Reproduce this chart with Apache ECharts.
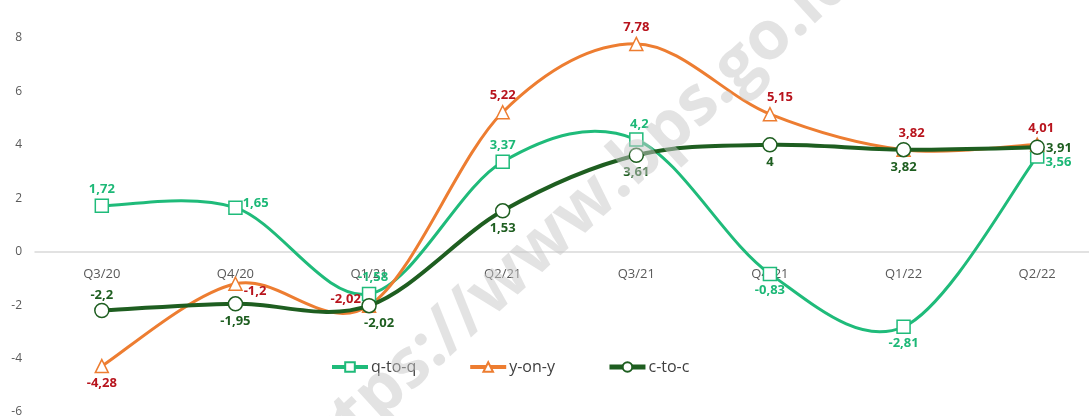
<!DOCTYPE html>
<html>
<head>
<meta charset="utf-8">
<script src="https://cdn.jsdelivr.net/npm/echarts@6/dist/echarts.min.js"></script>
<style>html,body{margin:0;padding:0;background:#fff}#c{width:1089px;height:416px}</style>
</head>
<body>
<div id="c"></div>
<script>
var categories = ['Q3/20','Q4/20','Q1/21','Q2/21','Q3/21','Q4/21','Q1/22','Q2/22'];
var qtoq = [1.72, 1.65, -1.58, 3.37, 4.2, -0.83, -2.81, 3.56];
var yony = [-4.28, -1.2, -2.02, 5.22, 7.78, 5.15, 3.82, 4.01];
var ctoc = [-2.2, -1.95, -2.02, 1.53, 3.61, 4, 3.82, 3.91];
var qPos = ['top','right','top','top','top','bottom','bottom','right'];
var yPos = ['bottom','right','left','top','top','top','top','top'];
var cPos = ['top','bottom','bottom','bottom','bottom','bottom','bottom','right'];
var qOff = [[0,0],[-3,-4],[4,0],[0,0],[3,2],[0,0],[0,0],[-2,6]];
var yOff = [[0,0],[-2,8],[2,-6],[0,0],[0,0],[10,0],[8,0],[4,0]];
var cOff = [[0,2],[0,0],[10,0],[0,0],[0,0],[0,0],[0,0],[-2,1]];

var FONT = '"Open Sans", "Noto Sans", sans-serif';
var Y_MIN = -6, Y_MAX = 8, GRID_TOP = 38, GRID_BOTTOM = 4, H = 416;
var zeroY = GRID_TOP + (H - GRID_TOP - GRID_BOTTOM) * (Y_MAX / (Y_MAX - Y_MIN));
var axisOffset = -((H - GRID_BOTTOM) - zeroY);

var C_Q = '#1fbb7a', C_Y = '#ed7d31', C_C = '#1e5e20';

function fmt(p){ return String(p.value).replace('.', ','); }
function mk(vals, pos, off, labelColor){
  return vals.map(function(v,i){
    return {value: v, label: {position: pos[i], color: labelColor, offset: off[i]}};
  });
}
// Excel-like (Catmull-Rom) smoothed curve drawn through the chart's coordinate system
function curve(vals, color, width, z){
  var n = vals.length;
  return {
    type: 'custom', z: z, silent: true, clip: false,
    data: vals.map(function(v,i){ return [i, v]; }),
    encode: {x: 0, y: 1},
    renderItem: function(params, api){
      var i = params.dataIndex;
      if (i >= n - 1) return null;
      function P(k){ k = Math.max(0, Math.min(n-1, k)); return api.coord([k, vals[k]]); }
      var p0 = P(i-1), p1 = P(i), p2 = P(i+1), p3 = P(i+2);
      return {
        type: 'bezierCurve',
        shape: {
          x1: p1[0], y1: p1[1], x2: p2[0], y2: p2[1],
          cpx1: p1[0] + (p2[0]-p0[0])/6, cpy1: p1[1] + (p2[1]-p0[1])/6,
          cpx2: p2[0] - (p3[0]-p1[0])/6, cpy2: p2[1] - (p3[1]-p1[1])/6
        },
        style: {stroke: color, lineWidth: width, fill: null, lineCap: 'round'}
      };
    }
  };
}
function points(name, vals, pos, off, labelColor, color, symbol, size, width, z){
  return {
    name: name, type: 'line', data: mk(vals, pos, off, labelColor),
    symbol: symbol, symbolSize: size, z: z,
    lineStyle: {color: color, width: width, opacity: 0},
    itemStyle: {color: '#ffffff', borderColor: color, borderWidth: 1.5},
    label: {show: true, formatter: fmt, fontSize: 13, fontWeight: 'bold', distance: 3, fontFamily: FONT}
  };
}
var chart = echarts.init(document.getElementById('c'));
chart.setOption({
  animation: false,
  textStyle: {fontFamily: FONT},
  graphic: [{
    type: 'text', z: 100, x: 266, y: 452, rotation: 0.74, silent: true,
    style: {text: 'https://www.bps.go.id', font: 'bold 68px ' + FONT, fill: 'rgba(200,200,200,0.5)', textBaseline: 'middle'}
  }],
  grid: {left: 35, right: -15, top: GRID_TOP, bottom: GRID_BOTTOM, containLabel: false, outerBoundsMode: 'none'},
  legend: {
    top: 354, left: 325, itemGap: 52, itemWidth: 36, itemHeight: 12,
    textStyle: {color: '#404040', fontSize: 16, fontFamily: FONT, padding: [0,0,0,-2]},
    data: [
      {name: 'q-to-q', lineStyle: {opacity: 1, width: 4, color: C_Q}},
      {name: 'y-on-y', lineStyle: {opacity: 1, width: 4, color: C_Y}},
      {name: 'c-to-c', lineStyle: {opacity: 1, width: 5, color: C_C}}
    ]
  },
  xAxis: {
    type: 'category', data: categories, boundaryGap: true, offset: axisOffset,
    axisLine: {onZero: false, lineStyle: {color: '#d9d9d9', width: 1.5}},
    axisTick: {show: false},
    axisLabel: {color: '#595959', fontSize: 13, margin: 16, fontFamily: FONT}
  },
  yAxis: {
    type: 'value', min: Y_MIN, max: Y_MAX, interval: 2,
    splitLine: {show: false},
    axisLine: {show: false}, axisTick: {show: false},
    axisLabel: {color: '#595959', fontSize: 12, margin: 13, fontFamily: FONT}
  },
  series: [
    curve(qtoq, C_Q, 3, 2),
    curve(yony, C_Y, 3, 3),
    curve(ctoc, C_C, 4, 4),
    points('q-to-q', qtoq, qPos, qOff, '#1db877', C_Q, 'rect', 13, 3, 5),
    points('y-on-y', yony, yPos, yOff, '#b8141d', C_Y, 'triangle', 13, 3, 6),
    points('c-to-c', ctoc, cPos, cOff, '#1e5e20', C_C, 'circle', 14, 4, 7)
  ]
});
</script>
</body>
</html>
